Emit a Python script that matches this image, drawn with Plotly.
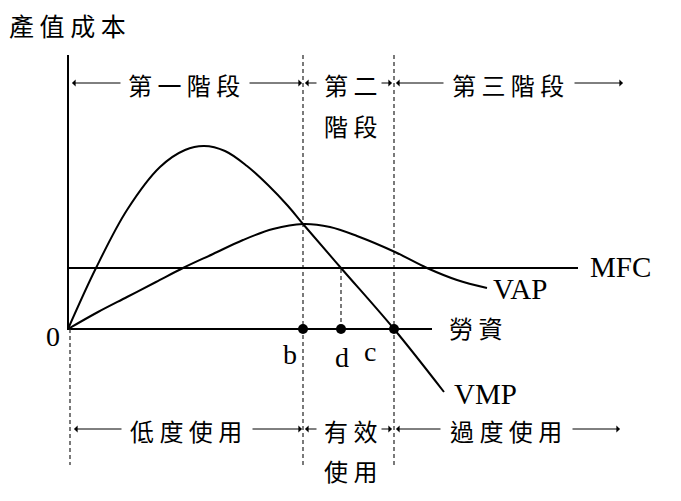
import plotly.graph_objects as go

# ---- data (x: labour input from origin, y: value/cost from horizontal axis) ----
vmp_x = [0, 28, 59, 92, 117, 136, 157, 179, 200, 220, 235, 273, 326, 376]
vmp_y = [0, 61, 119, 162, 179, 183, 178, 163, 144, 123, 105, 61, 0, -63]

vap_x = [0, 30, 59, 88, 115, 145, 175, 205, 235, 262, 289, 327, 359, 389, 419]
vap_y = [0, 17, 32, 47, 61, 75, 89, 100, 105, 102, 93, 77, 61, 49, 41]

mfc_level = 61
mfc_end = 510
axis_x_end = 364
axis_y_top = 274
guide_bottom = -136

b_x, d_x, c_x = 235, 273, 326
point_names = ["b", "d", "c"]

fig = go.Figure()

# axes
fig.add_trace(go.Scatter(x=[0, 0, axis_x_end], y=[axis_y_top, 0, 0], mode="lines",
                         line=dict(color="black", width=2), hoverinfo="skip"))
# guide dashed lines
dash_style = dict(color="#222222", width=1.2, dash="4px,3px")
fig.add_trace(go.Scatter(x=[2, 2], y=[0, guide_bottom], mode="lines", line=dash_style, hoverinfo="skip"))
fig.add_trace(go.Scatter(x=[b_x, b_x], y=[axis_y_top, guide_bottom], mode="lines", line=dash_style, hoverinfo="skip"))
fig.add_trace(go.Scatter(x=[c_x, c_x], y=[axis_y_top, guide_bottom], mode="lines", line=dash_style, hoverinfo="skip"))
fig.add_trace(go.Scatter(x=[d_x, d_x], y=[0, mfc_level], mode="lines", line=dash_style, hoverinfo="skip"))

# MFC
fig.add_trace(go.Scatter(x=[0, mfc_end], y=[mfc_level, mfc_level], mode="lines",
                         line=dict(color="black", width=2), hoverinfo="skip"))
# VMP & VAP
fig.add_trace(go.Scatter(x=vmp_x, y=vmp_y, mode="lines", line=dict(color="black", width=2, shape="spline", smoothing=1.0), hoverinfo="skip"))
fig.add_trace(go.Scatter(x=vap_x, y=vap_y, mode="lines", line=dict(color="black", width=2, shape="spline", smoothing=1.0), hoverinfo="skip"))

# points b, d, c
fig.add_trace(go.Scatter(x=[b_x, d_x, c_x], y=[0, 0, 0], mode="markers",
                         marker=dict(color="black", size=10), hoverinfo="skip"))

serif = "Liberation Serif, Times New Roman, serif"
cjk = "Noto Sans CJK TC, Noto Sans CJK SC, sans-serif"
sp = "\u00a0"

def txt(x, y, s, size, family, xanchor="center"):
    fig.add_annotation(x=x, y=y, text=s, showarrow=False, xanchor=xanchor, yanchor="middle",
                       font=dict(family=family, size=size, color="black"))

def arrow(x_head, x_tail, y):
    fig.add_annotation(x=x_head, y=y, ax=x_tail, ay=y, axref="x", ayref="y", text="",
                       showarrow=True, arrowhead=1, arrowsize=1.2, arrowwidth=1,
                       arrowcolor="black", standoff=0, startstandoff=0)

# title
txt(-61, 304, sp.join("產值成本"), 25, cjk, xanchor="left")

# stage labels (top)
top_y = 245
txt(116, top_y, sp.join("第一階段"), 24, cjk)
txt(282, top_y, sp.join("第二"), 24, cjk)
txt(282, 204, sp.join("階段"), 24, cjk)
txt(440, top_y, sp.join("第三階段"), 24, cjk)
for h, t in [(4, 54), (234, 180), (237, 250), (324, 312), (328, 377), (555, 505)]:
    arrow(h, t, top_y + 1)

# usage labels (bottom)
bot_y = -101
txt(118, bot_y, sp.join("低度使用"), 24, cjk)
txt(282, bot_y, sp.join("有效"), 24, cjk)
txt(282, -141, sp.join("使用"), 24, cjk)
txt(438, bot_y, sp.join("過度使用"), 24, cjk)
for h, t in [(6, 55), (234, 183), (237, 250), (324, 312), (328, 374), (552, 503)]:
    arrow(h, t, bot_y + 1)

# axis / point labels
txt(-15, -7, "0", 28, serif)
for name, x, y in zip(point_names, [222, 274, 302], [-25, -28, -22]):
    txt(x, y, name, 28, serif)
txt(407, 2, sp.join("勞資"), 24, cjk)
txt(552, 62, "MFC", 29, serif)
txt(452, 40, "VAP", 29, serif)
txt(417, -65, "VMP", 29, serif)

fig.update_layout(
    width=681, height=501,
    margin=dict(l=0, r=0, t=0, b=0),
    paper_bgcolor="white", plot_bgcolor="white",
    showlegend=False,
    xaxis=dict(range=[-68, 613], visible=False, fixedrange=True),
    yaxis=dict(range=[-172, 329], visible=False, fixedrange=True),
)

fig.write_html("out.html", config={"displayModeBar": False},
               post_script="document.body.style.margin='0';document.body.style.overflow='hidden';")
